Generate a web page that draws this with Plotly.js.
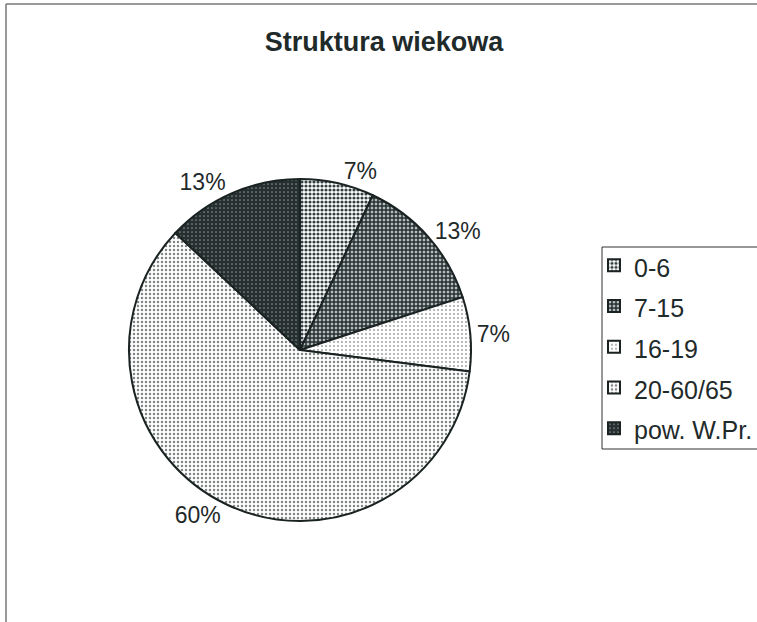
<!DOCTYPE html>
<html>
<head>
<meta charset="utf-8">
<script src="https://cdn.plot.ly/plotly-3.0.1.min.js"></script>
<style>
  html, body { margin: 0; padding: 0; background: #fff; }
  #chart { width: 757px; height: 622px; }
</style>
</head>
<body>
<div id="chart"></div>
<script>
// grupy wiekowe i udziały (%)
const labels = ['0-6', '7-15', '16-19', '20-60/65', 'pow. W.Pr.'];
const values = [7, 13, 7, 60, 13];

// kropkowane wypełnienia jak w wydruku (kolor kropek, gęstość)
const dotColors = ['#34403f', '#2b3636', '#9a9e9e', '#7f8585', '#263030'];
const dotDensity = [0.5, 0.78, 0.18, 0.3, 0.85];

const W = 757, H = 622;
const cx = 300, cy = 350, r = 171;

// mniejszy tekst w legendzie przy większym odstępie między pozycjami
const legendLabels = labels.map(l => '<span style="font-size:25px">' + l + '</span>');

const trace = {
  type: 'pie',
  labels: legendLabels,
  values: values,
  sort: false,
  direction: 'clockwise',
  rotation: 0,
  textposition: 'outside',
  texttemplate: '%{percent:.0%}',
  outsidetextfont: { family: 'Arial, Liberation Sans, sans-serif', size: 23, color: '#1f2a2a' },
  hoverinfo: 'percent',
  automargin: false,
  marker: {
    colors: labels.map(() => '#ffffff'),
    line: { color: '#1a2222', width: 2 },
    pattern: {
      shape: '.',
      fgcolor: dotColors,
      bgcolor: '#ffffff',
      size: 4,
      solidity: dotDensity,
      fillmode: 'replace'
    }
  },
  domain: {
    x: [(cx - r) / W, (cx + r) / W],
    y: [(H - cy - r) / H, (H - cy + r) / H]
  }
};

const layout = {
  width: W,
  height: H,
  margin: { l: 0, r: 0, t: 0, b: 0, autoexpand: false },
  paper_bgcolor: '#ffffff',
  font: { family: 'Arial, Liberation Sans, sans-serif', color: '#1f2a2a' },
  title: {
    text: '<b>Struktura wiekowa</b>',
    font: { size: 27, color: '#1f2a2a' },
    x: 384 / W,
    xanchor: 'center',
    y: 1 - 42 / H,
    yanchor: 'middle'
  },
  showlegend: true,
  legend: {
    x: 594 / W,
    xanchor: 'left',
    y: 1 - 240 / H,
    yanchor: 'top',
    borderwidth: 0,
    bgcolor: 'rgba(0,0,0,0)',
    font: { size: 29, color: '#1f2a2a' },
    itemwidth: 30,
    traceorder: 'normal'
  },
  shapes: [
    // ramka wykresu
    { type: 'line', xref: 'paper', yref: 'paper', x0: 6 / W, x1: 1, y0: 1 - 4 / H, y1: 1 - 4 / H,
      line: { color: '#777', width: 1.5 } },
    { type: 'line', xref: 'paper', yref: 'paper', x0: 6 / W, x1: 6 / W, y0: 0, y1: 1 - 4 / H,
      line: { color: '#777', width: 1.5 } },
    // ramka legendy
    { type: 'rect', xref: 'paper', yref: 'paper', x0: 602 / W, x1: 770 / W,
      y0: 1 - 449 / H, y1: 1 - 247 / H, line: { color: '#333', width: 1 } }
  ]
};

Plotly.newPlot('chart', [trace], layout, { displayModeBar: false, staticPlot: true });
</script>
</body>
</html>
